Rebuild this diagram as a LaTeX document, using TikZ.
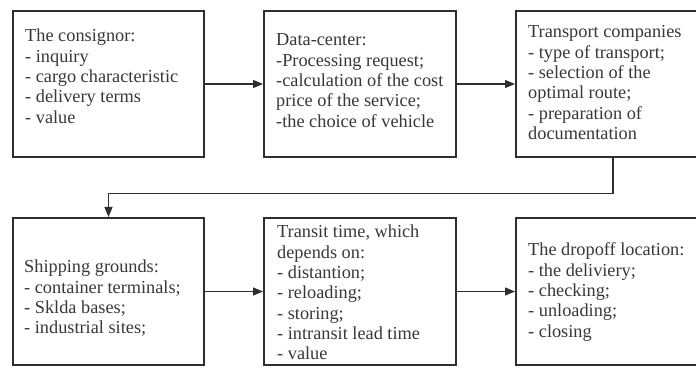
\documentclass[tikz,border=0pt]{standalone}
\usepackage{fontspec}
\setmainfont{Liberation Serif}
\usetikzlibrary{arrows.meta}
\definecolor{edge}{HTML}{2E2E2E}
\definecolor{ink}{HTML}{383838}
\tikzset{
  stagebox/.style={draw=edge, line width=2pt, fill=white, inner sep=0pt,
    minimum height=146pt},
  stagetext/.style={anchor=base west, inner sep=0pt, text=ink,
    font=\fontsize{18.3pt}{20.3pt}\selectfont},
  link/.style={draw=edge, line width=1.1pt, -{Triangle[length=10pt,width=8pt]}},
}
\newcommand{\stagelines}[1]{\begin{tabular}[t]{@{}l@{}}#1\end{tabular}}
\begin{document}
\begin{tikzpicture}[x=1pt,y=1pt]
  \useasboundingbox (0,0) rectangle (696,367);
  \clip (0,0) rectangle (696,367);
  \fill[white] (0,0) rectangle (696,367);

  % upper row of stages
  \node[stagebox, minimum width=191pt] (consignor) at (108.5,283) {};
  \node[stagebox, minimum width=192pt] (datacenter) at (360,283) {};
  \node[stagebox, minimum width=184pt] (transport) at (608,283) {};

  % lower row of stages
  \node[stagebox, minimum width=191pt, minimum height=147pt] (grounds) at (108.5,75.5) {};
  \node[stagebox, minimum width=192pt, minimum height=147pt] (transit) at (360,75.5) {};
  \node[stagebox, minimum width=184pt, minimum height=147pt] (dropoff) at (608,75.5) {};

  % texts of the stages
  \node[stagetext] (consignorT) at (25,325) {\stagelines{The consignor:\\- inquiry\\- cargo characteristic\\- delivery terms\\- value}};
  \node[stagetext] (datacenterT) at (276,321) {\stagelines{Data-center:\\-Processing request;\\-calculation of the cost\\price of the service;\\-the choice of vehicle}};
  \node[stagetext] (transportT) at (528,329) {\stagelines{Transport companies\\- type of transport;\\- selection of the\\optimal route;\\- preparation of\\documentation}};
  \node[stagetext] (groundsT) at (24,94) {\stagelines{Shipping grounds:\\- container terminals;\\- Sklda bases;\\- industrial sites;}};
  \node[stagetext] (transitT) at (277,129) {\stagelines{Transit time, which\\depends on:\\- distantion;\\- reloading;\\- storing;\\- intransit lead time\\- value}};
  \node[stagetext] (dropoffT) at (528,111) {\stagelines{The dropoff location:\\- the deliviery;\\- checking;\\- unloading;\\- closing}};

  % bends of the return connector
  \coordinate (bendA) at (613,173.5);
  \coordinate (bendB) at (108.5,173.5);

  % connectors
  \draw[link] (consignor.east) -- (datacenter.west);
  \draw[link] (datacenter.east) -- (transport.west);
  \draw[link] (transport.south -| bendA) -- (bendA) -- (bendB) -- (grounds.north);
  \draw[link] (grounds.east) -- (transit.west);
  \draw[link] (transit.east) -- (dropoff.west);
\end{tikzpicture}
\end{document}
